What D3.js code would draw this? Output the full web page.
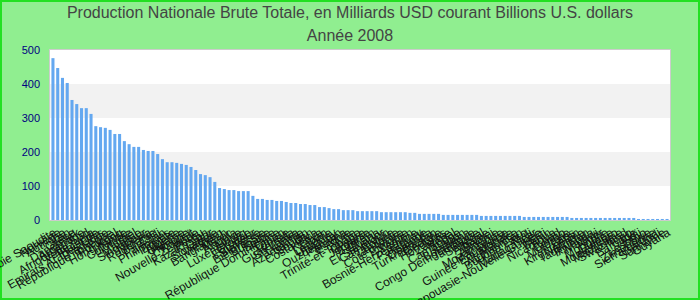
<!DOCTYPE html>
<html><head><meta charset="utf-8">
<script src="https://cdn.jsdelivr.net/npm/d3@7"></script>
<style>body{margin:0;background:#90ee90;}svg{display:block;}</style>
</head><body>
<svg id="c" width="700" height="300"></svg>
<script>
const titleLines = ["Production Nationale Brute Totale, en Milliards USD courant Billions U.S. dollars", "Année 2008"];
const countries = ["Arabie Saoudite","Norvège","Autriche","Iran","Grèce","Danemark","Argentine","Afrique du Sud","Venezuela","Finlande",
"Emirats Arabes Unis","Thaïlande","République Tchèque","Portugal","Hong Kong","Irlande","Colombie","Israël","Malaisie","Singapour",
"Nigeria","Roumanie","Chili","Pakistan","Philippines","Egypte","Algérie","Ukraine","Hongrie","Koweït",
"Nouvelle-Zélande","Pérou","Kazakhstan","Qatar","Slovaquie","Vietnam","Bangladesh","Maroc","Angola","Libye",
"Luxembourg","Croatie","Equateur","Slovénie","Biélorussie","Bulgarie","Serbie","République Dominicaine","Oman","Tunisie",
"Guatemala","Sri Lanka","Lituanie","Azerbaïdjan","Soudan","Costa Rica","Kenya","Liban","Lettonie","Uruguay",
"Ouzbékistan","Panama","Estonie","Syrie","Trinité-et-Tobago","Chypre","Jordanie","Bahreïn","Ghana","El Salvador",
"Cameroun","Bolivie","Tanzanie","Côte d'Ivoire","Ethiopie","Yémen","Bosnie-Herzégovine","Paraguay","Islande","Ouganda",
"Turkménistan","Géorgie","Honduras","Zambie","Népal","Cambodge","Gabon","Botswana","Congo Démocratique","Jamaïque",
"Sénégal","Albanie","Brunei","Arménie","Mozambique","Macédoine","Guinée Equatoriale","Maurice","Afghanistan","Burkina Faso",
"Mali","Madagascar","Papouasie-Nouvelle-Guinée","Haïti","Bénin","Nicaragua","Tchad","Congo","Moldavie","Laos",
"Kirghizistan","Namibie","Tadjikistan","Rwanda","Malawi","Niger","Mongolie","Guinée","Monténégro","Mauritanie",
"Swaziland","Togo","Barbade","Fidji","Lesotho","Zimbabwe","Sierra Leone","Burundi","Suriname","Guyana"];
const values = [476,447,418,403,353,341,329,329,312,276,
273,271,265,253,253,232,223,215,215,206,
203,203,194,179,170,170,168,165,162,156,
147,135,132,126,112,94,91,88,88,85,
85,85,71,62,62,59,59,56,56,53,
50,50,47,47,44,44,38,38,35,32,
32,29,29,29,26,26,26,26,26,23,
23,23,23,23,23,21,21,18,18,18,
18,18,15,15,15,15,15,15,15,15,
12,12,12,12,12,12,12,12,12,9,
9,9,9,9,9,9,9,9,9,6,
6,6,6,6,6,6,6,6,6,6,
6,6,6,3,3,3,3,3,3,3];
const yTicks = [0,100,200,300,400,500];

const svg = d3.select("#c");
const W = 700, H = 300;
const m = {l:50, t:50, r:670, b:220};

svg.append("rect").attr("x",1).attr("y",1).attr("width",W-2).attr("height",H-2)
  .attr("fill","#90ee90").attr("stroke","#22e022").attr("stroke-width",2);

const x = d3.scaleBand().domain(countries).range([m.l, m.r]).paddingInner(0.36).paddingOuter(0.3);
const y = d3.scaleLinear().domain([0,500]).range([m.b, m.t]);

svg.append("rect").attr("x",m.l).attr("y",m.t).attr("width",m.r-m.l).attr("height",m.b-m.t).attr("fill","#fff");
svg.append("g").selectAll("rect").data([[100,200],[300,400]]).join("rect")
  .attr("x",m.l).attr("width",m.r-m.l)
  .attr("y",d=>y(d[1])).attr("height",d=>y(d[0])-y(d[1])).attr("fill","#f2f2f2");
svg.append("rect").attr("x",m.l-0.5).attr("y",m.t-0.5).attr("width",m.r-m.l+1).attr("height",m.b-m.t+1)
  .attr("fill","none").attr("stroke","#cccccc").attr("stroke-width",1);

svg.append("g").selectAll("rect").data(values).join("rect")
  .attr("x",(d,i)=>x(countries[i])).attr("width",x.bandwidth())
  .attr("y",d=>y(d)).attr("height",d=>y(0)-y(d)).attr("fill","#64a8f0");

const ya = d3.axisLeft(y).tickValues(yTicks).tickSize(0).tickPadding(10);
const yg = svg.append("g").attr("transform",`translate(${m.l},0)`).call(ya);
yg.select(".domain").remove();
yg.selectAll("text").attr("font-family","Arial, 'Liberation Sans', sans-serif").attr("font-size",11).attr("fill","#000080");

const xa = d3.axisBottom(x).tickSize(0).tickPadding(0);
const xg = svg.append("g").attr("transform",`translate(0,${m.b})`).call(xa);
xg.select(".domain").remove();
xg.selectAll("text")
  .attr("font-family","Arial, 'Liberation Sans', sans-serif").attr("font-size",12).attr("fill","#111")
  .attr("text-anchor","end").attr("dy",null).attr("y",null)
  .attr("transform","translate(4,15) rotate(-30)");

svg.append("g").selectAll("text").data(titleLines).join("text")
  .attr("x",350).attr("y",(d,i)=>18+i*23).attr("text-anchor","middle")
  .attr("font-family","Arial, 'Liberation Sans', sans-serif").attr("font-size",16).attr("fill","#444")
  .text(d=>d);
</script>
</body></html>
